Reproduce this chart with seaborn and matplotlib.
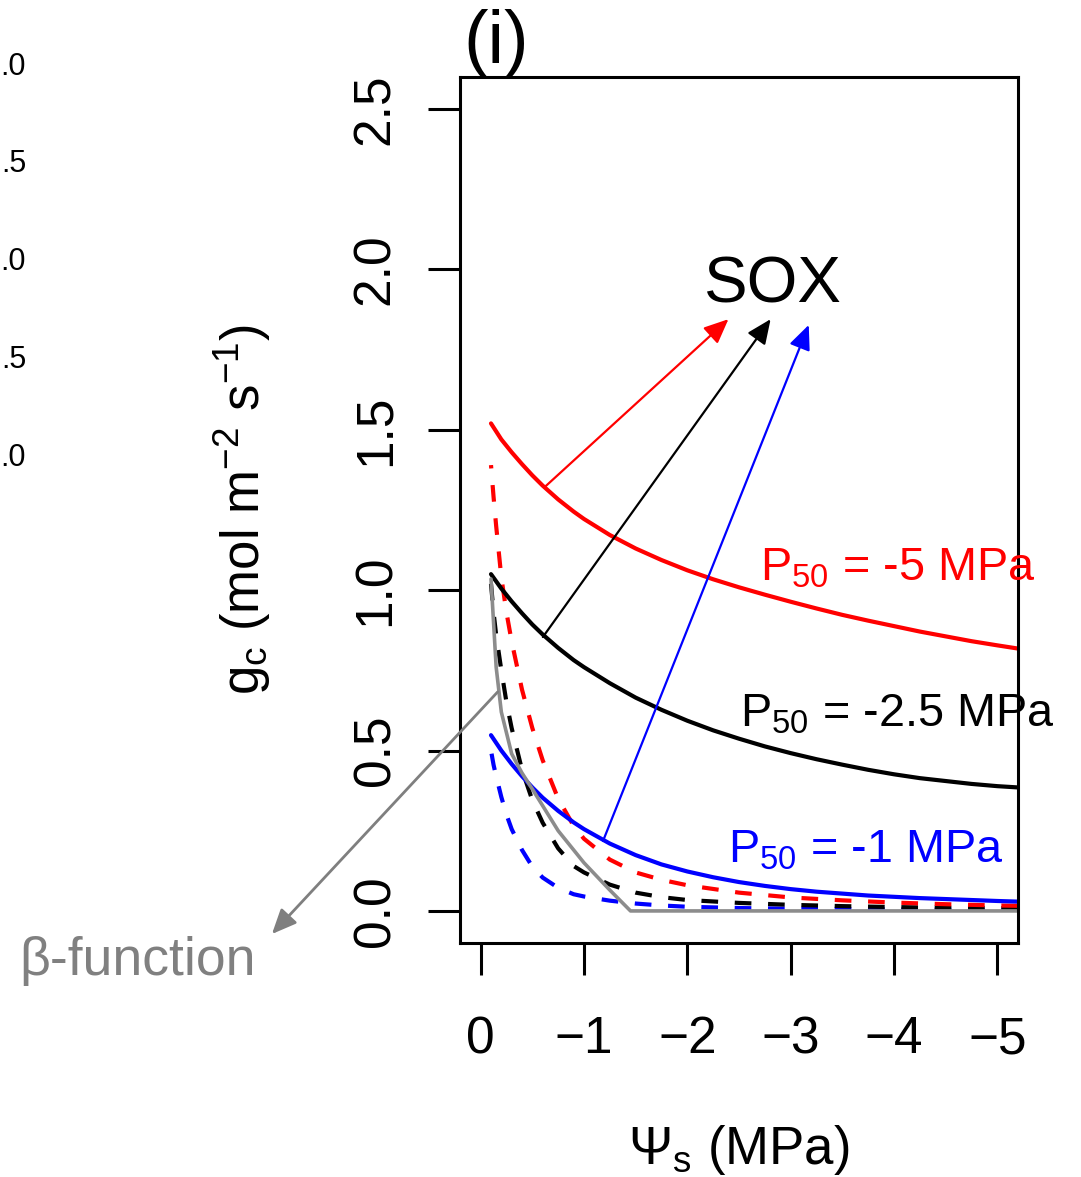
import matplotlib
matplotlib.use("Agg")
import matplotlib.pyplot as plt
import numpy as np
import pandas as pd
import seaborn as sns

# ---------------- data ----------------
psi = [-0.1, -0.2, -0.3, -0.4, -0.5, -0.6, -0.75, -0.9, -1.0, -1.25, -1.5, -1.75,
       -2.0, -2.25, -2.5, -2.75, -3.0, -3.25, -3.5, -3.75, -4.0, -4.25, -4.5,
       -4.75, -5.0, -5.2]

sox_p50_5 = [1.520, 1.470, 1.430, 1.393, 1.358, 1.326, 1.283, 1.245, 1.222, 1.172,
             1.130, 1.094, 1.062, 1.034, 1.009, 0.986, 0.964, 0.943, 0.923, 0.905,
             0.888, 0.871, 0.856, 0.841, 0.828, 0.818]
sox_p50_25 = [1.050, 1.005, 0.965, 0.928, 0.893, 0.862, 0.820, 0.782, 0.760, 0.710,
              0.665, 0.627, 0.593, 0.563, 0.537, 0.513, 0.492, 0.473, 0.456, 0.440,
              0.426, 0.414, 0.405, 0.396, 0.389, 0.385]
sox_p50_1 = [0.548, 0.500, 0.458, 0.420, 0.385, 0.353, 0.312, 0.276, 0.255, 0.210,
             0.174, 0.145, 0.123, 0.105, 0.090, 0.078, 0.068, 0.060, 0.054, 0.048,
             0.044, 0.040, 0.037, 0.034, 0.031, 0.029]

psi_d = [-0.1, -0.125, -0.15, -0.2, -0.25, -0.3, -0.4, -0.5, -0.6, -0.75, -0.9, -1.0,
         -1.25, -1.5, -1.75, -2.0, -2.5, -3.0, -3.5, -4.0, -4.5, -5.0, -5.2]
dash_p50_5 = [1.39, 1.29, 1.20, 1.04, 0.93, 0.84, 0.69, 0.57, 0.47, 0.35, 0.265, 0.225,
              0.16, 0.12, 0.097, 0.08, 0.057, 0.042, 0.033, 0.026, 0.021, 0.017, 0.016]
dash_p50_25 = [1.02, 0.93, 0.86, 0.75, 0.65, 0.57, 0.44, 0.345, 0.275, 0.195, 0.14, 0.12,
               0.082, 0.057, 0.043, 0.034, 0.025, 0.019, 0.015, 0.012, 0.010, 0.009, 0.008]
dash_p50_1 = [0.50, 0.455, 0.42, 0.355, 0.30, 0.255, 0.19, 0.138, 0.104, 0.072, 0.052,
              0.045, 0.032, 0.023, 0.017, 0.013, 0.009, 0.007, 0.006, 0.005, 0.004,
              0.004, 0.004]

beta_psi = [-0.1, -0.15, -0.2, -0.3, -0.4, -0.5, -0.75, -1.0, -1.25, -1.45, -5.2]
beta_gc = [1.035, 0.76, 0.62, 0.49, 0.43, 0.38, 0.25, 0.15, 0.065, 0.0, 0.0]

x_ticks = [0, -1, -2, -3, -4, -5]
y_ticks = [0.0, 0.5, 1.0, 1.5, 2.0, 2.5]
y_ticklabels = ["0.0", "0.5", "1.0", "1.5", "2.0", "2.5"]
side_labels = [".0", ".5", ".0", ".5", ".0"]   # cut-off labels of neighbouring panel

# ---------------- style ----------------
sns.set_style("ticks")
plt.rcParams["font.family"] = ["Liberation Sans", "DejaVu Sans"]
plt.rcParams["mathtext.fontset"] = "custom"
plt.rcParams["mathtext.rm"] = "Liberation Sans"
plt.rcParams["mathtext.it"] = "Liberation Sans:italic"
plt.rcParams["mathtext.bf"] = "Liberation Sans:bold"
plt.rcParams["text.color"] = "black"
plt.rcParams["axes.labelcolor"] = "black"

W, H = 1081, 1177
fig = plt.figure(figsize=(W / 100, H / 100), dpi=100)
ax = fig.add_axes([460 / W, 1 - 943 / H, 558 / W, 866 / H])

def fx(px):
    return px / W

def fy(py):
    return 1 - py / H

dash = (0, (4, 4))
sns.lineplot(x=psi_d, y=dash_p50_1, ax=ax, color="blue", lw=3, linestyle=dash)
sns.lineplot(x=psi_d, y=dash_p50_25, ax=ax, color="black", lw=3, linestyle=dash)
sns.lineplot(x=psi_d, y=dash_p50_5, ax=ax, color="red", lw=3, linestyle=dash)
sns.lineplot(x=psi, y=sox_p50_5, ax=ax, color="red", lw=3)
sns.lineplot(x=psi, y=sox_p50_25, ax=ax, color="black", lw=3)
sns.lineplot(x=psi, y=sox_p50_1, ax=ax, color="blue", lw=3)
sns.lineplot(x=beta_psi, y=beta_gc, ax=ax, color="#8c8c8c", lw=2.6)

ax.set_xlim(0.2, -5.2)
ax.set_ylim(-0.1, 2.6)
ax.set_xticks(x_ticks)
ax.set_yticks(y_ticks)
ax.set_yticklabels(y_ticklabels)

for s in ax.spines.values():
    s.set_visible(True)
    s.set_linewidth(2.2)
    s.set_color("black")

ax.tick_params(axis="x", direction="out", length=23, width=2.2, labelsize=37,
               pad=29, colors="black")
ax.tick_params(axis="y", direction="out", length=23, width=2.2, labelsize=37,
               pad=20, colors="black", labelrotation=90)
for lab in ax.get_yticklabels():
    lab.set_va("center")

ax.set_xlabel(r"Ψ$_\mathregular{s}$ (MPa)", fontsize=38, color="black")
ax.xaxis.set_label_coords(0.5, -0.208)
ax.set_ylabel(r"g$_\mathregular{c}$ (mol m$^{\mathregular{−2}}$ s$^{\mathregular{−1}}$)",
              fontsize=38, color="black")
ax.yaxis.set_label_coords(-0.336, 0.5)

# arrows towards "SOX"
def arrow(start, tip, color, lw=1.6):
    ax.annotate("", xy=tip, xytext=start, xycoords="data", textcoords="data",
                annotation_clip=False,
                arrowprops=dict(arrowstyle="-|>,head_length=0.5,head_width=0.22",
                                color=color, lw=lw, mutation_scale=30,
                                shrinkA=0, shrinkB=0))

arrow((-0.621, 1.322), (-2.398, 1.845), "red")
arrow((-0.602, 0.854), (-2.806, 1.845), "black")
arrow((-1.184, 0.218), (-3.175, 1.827), "blue")
arrow((-0.165, 0.683), (2.02, -0.072), "#7f7f7f", lw=2.0)

fig.text(fx(704), fy(302), "SOX", fontsize=47, va="baseline", ha="left")
fig.text(fx(760), fy(580), r"P$_\mathregular{50}$ = -5 MPa", fontsize=33.7,
         color="red", va="baseline", ha="left")
fig.text(fx(740), fy(727), r"P$_\mathregular{50}$ = -2.5 MPa", fontsize=33.7,
         color="black", va="baseline", ha="left")
fig.text(fx(728), fy(862), r"P$_\mathregular{50}$ = -1 MPa", fontsize=33.7,
         color="blue", va="baseline", ha="left")
fig.text(fx(19), fy(975), "β-function", fontsize=38.5, color="#808080",
         va="baseline", ha="left")
fig.text(fx(463), fy(63), "(i)", fontsize=53, va="baseline", ha="left")

for lbl, py in zip(side_labels, [67, 164, 262, 360, 458]):
    fig.text(fx(26), fy(py), lbl, fontsize=22, ha="right", va="center")

fig.savefig("out.png", dpi=100)
